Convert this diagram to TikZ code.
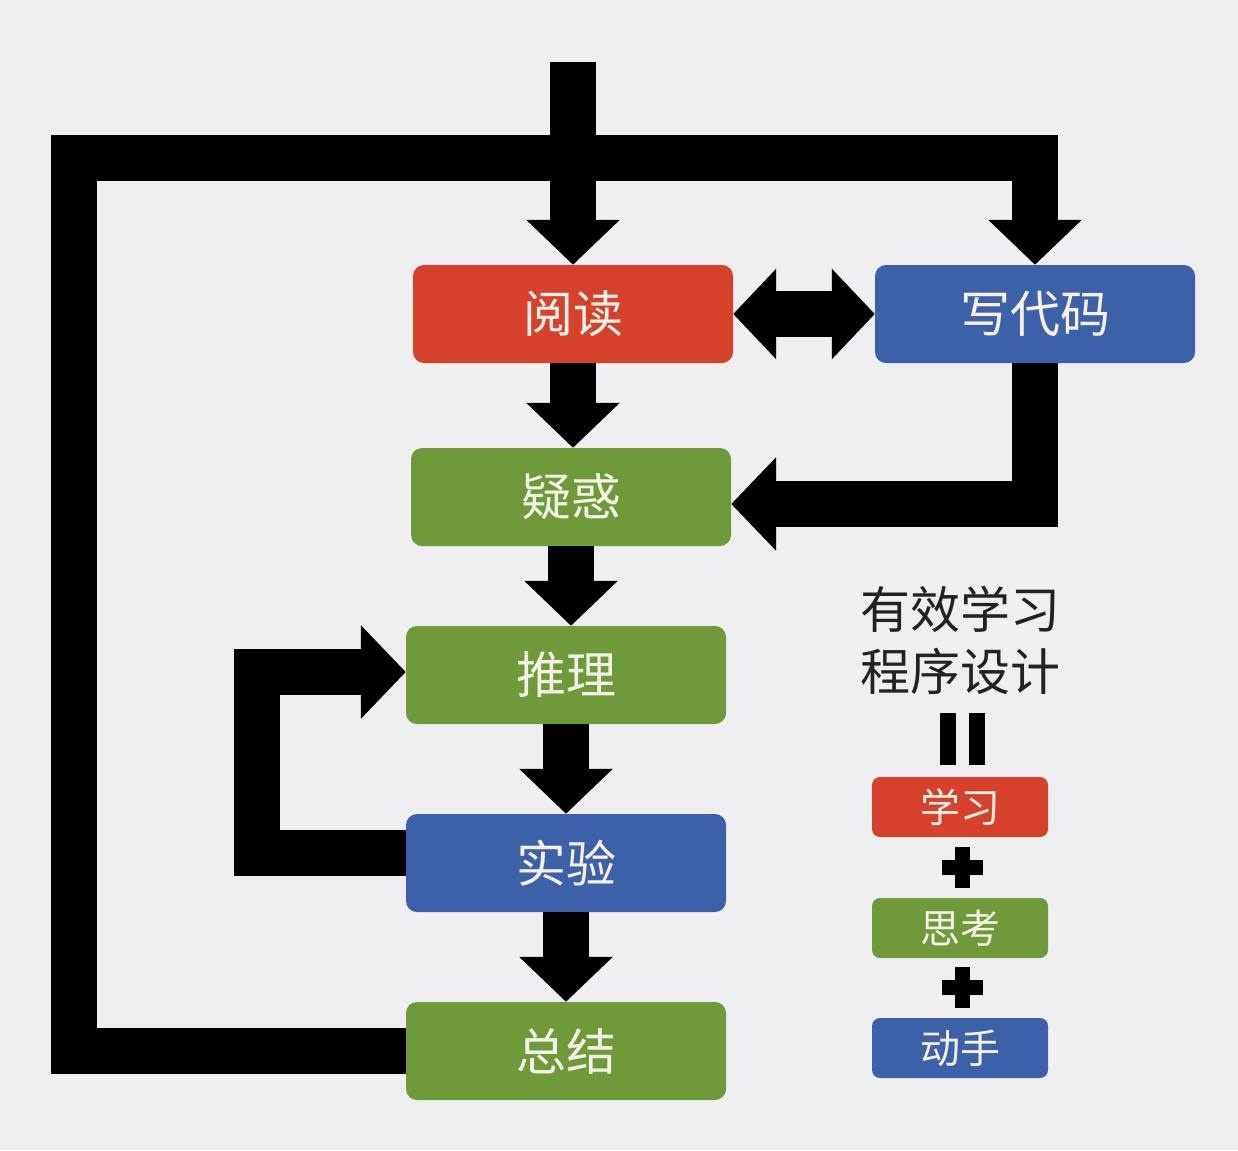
\documentclass[tikz,border=0pt]{standalone}
\usepackage{fontspec}
\newfontfamily\cjk{Noto Sans CJK SC}
\usetikzlibrary{arrows.meta}
\definecolor{bg}{HTML}{EFEFF1}
\definecolor{cred}{HTML}{D5412A}
\definecolor{cblue}{HTML}{3D61A9}
\definecolor{cgreen}{HTML}{6E9A3A}
\definecolor{boxtext}{HTML}{F5F1E6}
\definecolor{legtext}{HTML}{222222}
\begin{document}
\begin{tikzpicture}[x=1pt,y=-1pt,
  box/.style={rounded corners=11pt, minimum width=320pt, minimum height=98pt, inner sep=0pt,
    text=boxtext, font=\cjk\fontsize{50}{50}\selectfont},
  redbox/.style={box, fill=cred},
  bluebox/.style={box, fill=cblue},
  greenbox/.style={box, fill=cgreen},
  legbox/.style={rounded corners=8pt, minimum width=176pt, minimum height=60pt, inner sep=0pt,
    text=boxtext, font=\cjk\fontsize{40}{40}\selectfont},
  legtitle/.style={text=legtext, font=\cjk\fontsize{50}{50}\selectfont, inner sep=0pt},
  flowline/.style={draw=black, line width=46pt, line join=miter, line cap=butt},
  flow/.style={flowline, -{Triangle[length=45pt,width=91pt]}},
  flowboth/.style={flowline, {Triangle[length=43pt,width=88pt]}-{Triangle[length=43pt,width=88pt]}},
  symb/.style={fill=black, draw=none}
]
\fill[bg] (0,0) rectangle (1238,1150);
\useasboundingbox (0,0) rectangle (1238,1150);

% main boxes
\node[redbox]   (yd)  at (573,314)  {阅读};
\node[bluebox]  (xdm) at (1035,314) {写代码};
\node[greenbox] (yh)  at (571,497)  {疑惑};
\node[greenbox] (tl)  at (566,675)  {推理};
\node[bluebox]  (sy)  at (566,863)  {实验};
\node[greenbox] (zj)  at (566,1051) {总结};

% coordinates
\coordinate (in)  at (573,62);
\coordinate (cTL) at (74,158);
\coordinate (cL2) at (257,672);

% connectors
\draw[flow] (in) -- (yd.north);
\draw[flowboth] (yd.east) -- (xdm.west);
\draw[flow] (yd.south) -- (yd.south |- yh.north);
\draw[flow] (yh.south) -- (yh.south |- tl.north);
\draw[flow] (tl.south) -- (tl.south |- sy.north);
\draw[flow] (sy.south) -- (sy.south |- zj.north);
\draw[flow] (xdm.south) |- ([yshift=-7pt]yh.east);
\draw[flow] ([yshift=10pt]sy.west) -| (cL2) -- (cL2 -| tl.west);
\draw[flow] (zj.west) -| (cTL) -| (xdm.north);

% legend
\node[legtitle] (t1) at (960,609) {有效学习};
\node[legtitle] (t2) at (960,671) {程序设计};
\fill[symb] (940,713) rectangle (956,765);
\fill[symb] (969,713) rectangle (985,765);
\node[legbox, fill=cred]   (l1) at (960,807)  {学习};
\fill[symb] (942,860) rectangle (983,875);
\fill[symb] (955,847) rectangle (970,888);
\node[legbox, fill=cgreen] (l2) at (960,928)  {思考};
\fill[symb] (942,980) rectangle (983,995);
\fill[symb] (955,967) rectangle (970,1008);
\node[legbox, fill=cblue]  (l3) at (960,1048) {动手};
\end{tikzpicture}
\end{document}
